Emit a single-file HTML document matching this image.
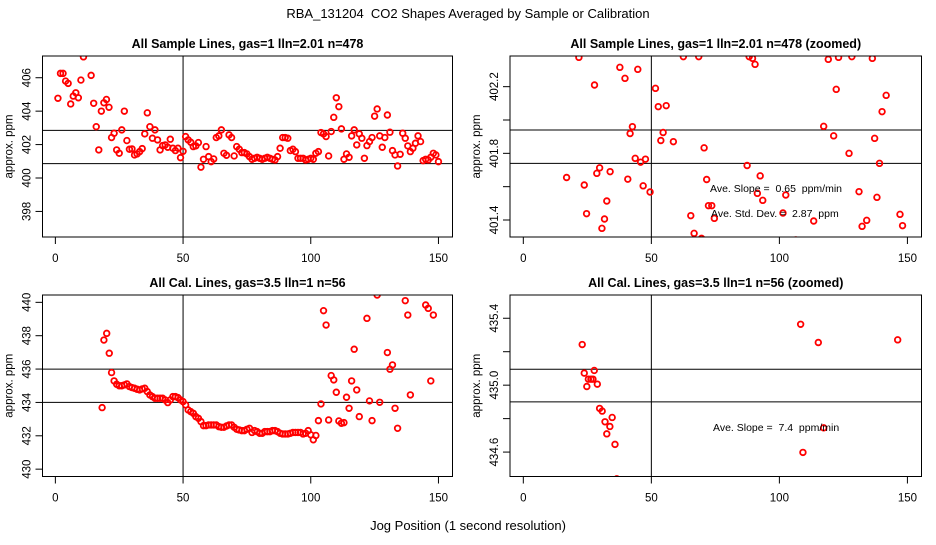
<!DOCTYPE html>
<html><head><meta charset="utf-8"><style>
html,body{margin:0;padding:0;background:#fff}
svg text{font-family:"Liberation Sans",sans-serif;fill:#000;white-space:pre}
</style></head><body>
<svg id="chart" width="936" height="540" xmlns="http://www.w3.org/2000/svg">
<rect width="936" height="540" fill="#fff"/>
<text x="468" y="18" text-anchor="middle" font-size="13">RBA_131204  CO2 Shapes Averaged by Sample or Calibration</text>
<text x="468" y="530" text-anchor="middle" font-size="13">Jog Position (1 second resolution)</text>
</svg>
<script>
// Panel 1: all sample lines
const p1X = [1,2,3,4,5,6,7,8,9,10,11,14,15,16,17,18,19,20,21,22,23,24,25,26,27,28,29,30,31,32,33,34,35,36,37,38,39,40,41,42,43,44,45,46,47,48,49,50,51,52,53,54,55,56,57,58,59,60,61,62,63,64,65,66,67,68,69,70,71,72,73,74,75,76,77,78,79,80,81,82,83,84,85,86,87,88,89,90,91,92,93,94,95,96,97,98,99,100,101,102,103,104,105,106,107,108,109,110,111,112,113,114,115,116,117,118,119,120,121,122,123,124,125,126,127,128,129,130,131,132,133,134,135,136,137,138,139,140,141,142,143,144,145,146,147,148,149,150];
const p1Y = [404.77,406.26,406.26,405.8,405.66,404.43,404.9,405.1,404.8,405.86,407.25,406.14,404.47,403.07,401.68,404.0,404.5,404.7,404.23,402.42,402.68,401.68,401.48,402.88,404.0,402.24,401.72,401.74,401.38,401.44,401.58,401.76,402.64,403.9,403.07,402.38,402.88,402.28,401.68,401.94,401.98,401.84,402.32,401.78,401.64,401.78,401.22,401.6,402.48,402.28,402.14,401.88,401.92,402.12,400.65,401.12,401.88,401.28,400.98,401.14,402.42,402.52,402.88,401.48,401.36,402.58,402.42,401.32,401.88,401.72,401.52,401.52,401.44,401.28,401.12,401.18,401.24,401.18,401.12,401.18,401.24,401.18,401.12,401.08,401.28,401.78,402.42,402.42,402.38,401.64,401.72,401.58,401.18,401.18,401.18,401.08,401.12,401.18,401.12,401.48,401.58,402.72,402.64,402.48,401.32,402.78,403.63,404.8,404.27,402.94,401.12,401.44,401.24,402.52,402.88,401.98,402.64,402.38,401.18,401.94,402.18,402.42,403.7,404.13,402.52,401.84,402.42,403.77,402.74,401.64,401.38,400.72,401.42,402.68,402.38,401.92,401.58,401.78,402.08,402.52,402.18,401.04,401.12,401.08,401.24,401.48,401.38,400.98];
const p1Ticks = [398,400,402,404,406];
const p1TickLabels = ["398","400","402","404","406"];
const p1HLines = [402.85,400.86];
// Panel 2: zoomed sample lines
const p2X = [16.9,21.7,23.8,24.7,27.8,28.7,29.8,31.7,30.7,32.6,33.9,37.7,39.7,40.8,41.7,42.6,43.7,44.7,45.8,46.8,47.7,49.5,51.6,52.7,53.7,54.6,55.8,58.6,62.5,65.4,66.7,68.5,69.6,70.6,71.6,72.3,73.6,74.6,87.4,88.2,89.5,90.5,91.4,92.5,93.5,101.4,102.5,106.4,113.4,117.3,119.1,121.2,122.2,123.1,127.2,128.3,131.1,132.3,134.1,136.3,137.2,138.1,139.1,140.1,141.7,147.1,148.1];
const p2Y = [401.655,402.376,401.61,401.438,402.21,401.68,401.713,401.406,401.35,401.514,401.69,402.316,402.25,401.645,401.919,401.96,401.77,402.304,401.747,401.605,401.765,401.568,402.19,402.08,401.877,401.925,402.086,401.87,402.38,401.426,401.32,402.38,401.29,401.833,401.643,401.486,401.486,401.41,401.727,402.38,402.37,402.334,401.56,401.665,401.518,401.442,401.55,401.28,401.394,401.962,402.364,401.905,402.184,402.376,401.8,402.38,401.57,401.362,401.398,402.37,401.89,401.536,401.74,402.05,402.148,401.434,401.366];
const p2Ticks = [401.4,401.6,401.8,402.0,402.2];
const p2TickLabels = ["401.4","","401.8","","402.2"];
const p2HLines = [401.94,401.74];
// Panel 3: calibration lines
const p3X = [18.3,19,20.1,21.1,22,23,24,25,26,27,28,29,30,31,32,33,34,35,36,37,38,39,40,41,42,43,44,45,46,47,48,49,50,51,52,53,54,55,56,57,58,59,60,61,62,63,64,65,66,67,68,69,70,71,72,73,74,75,76,77,78,79,80,81,82,83,84,85,86,87,88,89,90,91,92,93,94,95,96,97,98,99,100,101,102,103,104,105,106,107,108,109,110,111,112,113,114,115,116,117,118,119,122,123,124,126,127,130,131,132,133,134,137,138,139,145,146,148,147];
const p3Y = [433.69,437.74,438.14,436.95,435.79,435.29,435.09,435.0,435.0,435.05,435.11,434.95,434.89,434.85,434.79,434.75,434.81,434.85,434.65,434.45,434.35,434.25,434.25,434.25,434.25,434.15,433.99,434.15,434.35,434.35,434.29,434.15,434.05,433.85,433.55,433.45,433.35,433.15,433.05,432.85,432.61,432.61,432.65,432.65,432.65,432.65,432.55,432.51,432.51,432.59,432.65,432.65,432.51,432.39,432.35,432.31,432.31,432.39,432.45,432.2,432.31,432.25,432.15,432.15,432.25,432.25,432.25,432.31,432.31,432.25,432.15,432.11,432.11,432.11,432.15,432.2,432.2,432.2,432.2,432.11,432.15,432.31,432.06,431.76,432.02,432.91,433.91,439.5,438.64,432.95,435.61,435.35,434.61,432.89,432.75,432.79,434.31,433.65,435.29,437.19,434.75,433.15,439.04,434.09,432.91,440.44,434.01,436.99,435.99,436.25,433.65,432.45,440.1,439.24,434.45,439.84,439.64,439.24,435.29];
const p3Ticks = [430,432,434,436,438,440];
const p3TickLabels = ["430","432","434","436","438","440"];
const p3HLines = [436,434];
// Panel 4: zoomed calibration lines
const p4X = [23,23.8,24.8,25.4,26.4,27.2,27.7,28.9,29.8,30.8,31.9,32.6,33.8,34.7,35.8,36.5,108.3,115.2,117.3,109.2,146.2];
const p4Y = [435.243,435.072,434.992,435.036,435.036,435.036,435.088,435.006,434.861,434.845,434.781,434.709,434.753,434.807,434.646,434.44,435.364,435.255,434.745,434.598,435.271];
const p4Ticks = [434.6,434.8,435.0,435.2,435.4];
const p4TickLabels = ["434.6","","435.0","","435.4"];
const p4HLines = [435.095,434.9];
const xTicks = [0,50,100,150];
const xTickLabels = ["0","50","100","150"];

const NS = "http://www.w3.org/2000/svg";
const svg = document.getElementById('chart');
function mk(tag, attrs, parent){
  const e = document.createElementNS(NS, tag);
  for (const k in attrs) e.setAttribute(k, attrs[k]);
  (parent||svg).appendChild(e);
  return e;
}
let clipId = 0;
function panel(o){
  const g = mk('g', {});
  
  
  const sx = v => o.L + (v - o.x0) / (o.x1 - o.x0) * (o.R - o.L);
  const sy = v => o.B - (v - o.y0) / (o.y1 - o.y0) * (o.B - o.T);
  const t = mk('text', {x:(o.L+o.R)/2, y:o.T-8, 'text-anchor':'middle', 'font-size':'12.5', 'font-weight':'bold'}, g);
  t.textContent = o.title;
  
  
  const yt = mk('text', {transform:`translate(${o.L-30},${(o.T+o.B)/2}) rotate(-90)`, 'text-anchor':'middle', 'font-size':'11.5'}, g);
  yt.textContent = 'approx. ppm';
  
  
  clipId++;
  const cp = mk('clipPath', {id:'c'+clipId}, g);
  mk('rect', {x:o.L, y:o.T, width:o.R-o.L, height:o.B-o.T}, cp);
  const xa = mk('g', {}, g);
  
  
  xTicks.forEach((v,i)=>{
    const x = sx(v);
    mk('line', {x1:x, x2:x, y1:o.B, y2:o.B+7, stroke:'#000', 'stroke-width':1}, xa);
    const l = mk('text', {x:x, y:o.B+25, 'text-anchor':'middle', 'font-size':'11.5'}, xa);
    l.textContent = xTickLabels[i];
    
    
  });
  const ya = mk('g', {}, g);
  
  
  o.ticks.forEach((v,i)=>{
    const y = sy(v);
    mk('line', {x1:o.L-7, x2:o.L, y1:y, y2:y, stroke:'#000', 'stroke-width':1}, ya);
    if (o.labels[i]) {
      const l = mk('text', {transform:`translate(${o.L-12},${y}) rotate(-90)`, 'text-anchor':'middle', 'font-size':'11.5'}, ya);
      l.textContent = o.labels[i];
      
      
    }
  });
  o.hl.forEach(v=>{
    const ln = mk('line', {x1:o.L, x2:o.R, y1:sy(v), y2:sy(v), stroke:'#000', 'stroke-width':1}, g);
    
    
  });
  const vl = mk('line', {x1:sx(50), x2:sx(50), y1:o.T, y2:o.B, stroke:'#000', 'stroke-width':1}, g);
  
  
  const pg = mk('g', {'clip-path':`url(#c${clipId})`}, g);
  
  
  o.xs.forEach((xv,i)=>{
    const c = mk('circle', {cx:sx(xv), cy:sy(o.ys[i]), r:2.8, fill:'none', stroke:'#ff0000', 'stroke-width':1.8}, pg);
    
    
  });
  (o.notes||[]).forEach(n=>{
    const tx = mk('text', {x:n[0], y:n[1], 'font-size':'10.5'}, g);
    tx.textContent = n[2];
    
    
  });
  const box = mk('rect', {x:o.L, y:o.T, width:o.R-o.L, height:o.B-o.T, fill:'none', stroke:'#000', 'stroke-width':1}, g);
  
  
}
panel({name:'panel-sample-lines', title:'All Sample Lines, gas=1 lln=2.01 n=478', L:42.5, R:452.5, T:56, B:237, x0:-5.04, x1:155.5, y0:396.47, y1:407.3, xs:p1X, ys:p1Y, ticks:p1Ticks, labels:p1TickLabels, hl:p1HLines});
panel({name:'panel-sample-lines-zoomed', title:'All Sample Lines, gas=1 lln=2.01 n=478 (zoomed)', L:510, R:921.5, T:56, B:237, x0:-5.2, x1:155.5, y0:401.298, y1:402.384, xs:p2X, ys:p2Y, ticks:p2Ticks, labels:p2TickLabels, hl:p2HLines, notes:[[710,192,'Ave. Slope =  0.65  ppm/min'],[711,217,'Ave. Std. Dev. =  2.87  ppm']]});
panel({name:'panel-cal-lines', title:'All Cal. Lines, gas=3.5 lln=1 n=56', L:42.5, R:452.5, T:295, B:476.5, x0:-5.04, x1:155.5, y0:429.56, y1:440.44, xs:p3X, ys:p3Y, ticks:p3Ticks, labels:p3TickLabels, hl:p3HLines});
panel({name:'panel-cal-lines-zoomed', title:'All Cal. Lines, gas=3.5 lln=1 n=56 (zoomed)', L:510, R:921.5, T:295, B:476.5, x0:-5.2, x1:155.5, y0:434.454, y1:435.539, xs:p4X, ys:p4Y, ticks:p4Ticks, labels:p4TickLabels, hl:p4HLines, notes:[[713,431,'Ave. Slope =  7.4  ppm/min']]});
</script>
</body></html>
